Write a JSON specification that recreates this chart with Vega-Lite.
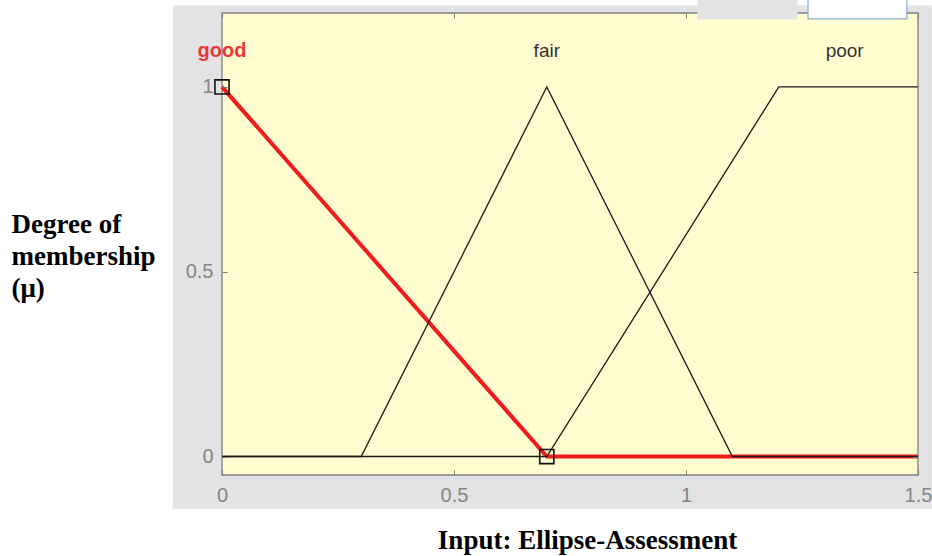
{
  "$schema": "https://vega.github.io/schema/vega-lite/v6.json",
  "width": 696,
  "height": 462,
  "autosize": {"type": "none"},
  "padding": {"left": 222, "top": 13, "right": 14, "bottom": 81},
  "background": "white",
  "config": {
    "view": {"stroke": null},
    "axis": {
      "grid": false,
      "domain": false,
      "ticks": true,
      "tickSize": 5,
      "offset": -5,
      "tickColor": "#7a7a7a",
      "tickWidth": 1,
      "labelFont": "Liberation Sans",
      "labelFontSize": 20,
      "labelColor": "#858585",
      "labelFlush": false,
      "labelOverlap": false
    }
  },
  "datasets": {
    "panel": [{"x": -0.106, "x2": 1.53, "y": -0.141, "y2": 1.22}],
    "plotArea": [{"x": 0, "x2": 1.5, "y": -0.05, "y2": 1.2}],
    "membership": [
      {"set": "good", "order": 1, "x": 0, "mu": 1},
      {"set": "good", "order": 2, "x": 0.7, "mu": 0},
      {"set": "good", "order": 3, "x": 1.5, "mu": 0},
      {"set": "fair", "order": 1, "x": 0, "mu": 0},
      {"set": "fair", "order": 2, "x": 0.3, "mu": 0},
      {"set": "fair", "order": 3, "x": 0.7, "mu": 1},
      {"set": "fair", "order": 4, "x": 1.1, "mu": 0},
      {"set": "fair", "order": 5, "x": 1.5, "mu": 0},
      {"set": "poor", "order": 1, "x": 0, "mu": 0},
      {"set": "poor", "order": 2, "x": 0.7, "mu": 0},
      {"set": "poor", "order": 3, "x": 1.2, "mu": 1},
      {"set": "poor", "order": 4, "x": 1.5, "mu": 1}
    ],
    "handles": [{"x": 0, "mu": 1}, {"x": 0.7, "mu": 0}],
    "names": [
      {"set": "good", "x": 0, "mu": 1.082},
      {"set": "fair", "x": 0.7, "mu": 1.082},
      {"set": "poor", "x": 1.342, "mu": 1.082}
    ],
    "widgets": [
      {"kind": "tab", "x": 1.026, "x2": 1.239, "y": 1.184, "y2": 1.24},
      {"kind": "box", "x": 1.263, "x2": 1.476, "y": 1.184, "y2": 1.24}
    ]
  },
  "layer": [
    {
      "data": {"name": "panel"},
      "mark": {"type": "rect", "fill": "#e3e3e3"},
      "encoding": {
        "x": {
          "field": "x", "type": "quantitative",
          "scale": {"domain": [0, 1.5], "nice": false, "zero": false},
          "axis": {
            "orient": "bottom",
            "zindex": 2,
            "values": [0, 0.5, 1, 1.5],
            "format": "~g",
            "labelPadding": 10,
            "title": "Input: Ellipse-Assessment",
            "titleFont": "Liberation Serif",
            "titleFontSize": 27,
            "titleFontWeight": "bold",
            "titleColor": "#000000",
            "titleAlign": "center",
            "titleBaseline": "alphabetic",
            "titleX": 365,
            "titleY": 78
          }
        },
        "x2": {"field": "x2"},
        "y": {
          "field": "y", "type": "quantitative",
          "scale": {"domain": [-0.05, 1.2], "nice": false, "zero": false},
          "axis": {
            "orient": "left",
            "zindex": 2,
            "values": [0, 0.5, 1],
            "format": "~g",
            "labelPadding": 9,
            "title": ["Degree of", "membership", "(μ)"],
            "titleFont": "Liberation Serif",
            "titleFontSize": 27,
            "titleFontWeight": "bold",
            "titleColor": "#000000",
            "titleAngle": 0,
            "titleAlign": "left",
            "titleBaseline": "alphabetic",
            "titleLineHeight": 32,
            "titleX": -216,
            "titleY": 219
          }
        },
        "y2": {"field": "y2"}
      }
    },
    {
      "data": {"name": "plotArea"},
      "mark": {"type": "rect", "fill": "#fffccf", "stroke": "#808080", "strokeWidth": 1.3},
      "encoding": {
        "x": {
          "field": "x", "type": "quantitative",
          "axis": {"orient": "top", "zindex": 2, "values": [0, 0.5, 1, 1.5], "labels": false, "title": null}
        },
        "x2": {"field": "x2"},
        "y": {
          "field": "y", "type": "quantitative",
          "axis": {"orient": "right", "zindex": 2, "values": [0, 0.5, 1], "labels": false, "title": null}
        },
        "y2": {"field": "y2"}
      }
    },
    {
      "data": {"name": "membership"},
      "transform": [{"filter": "datum.set === 'good'"}],
      "mark": {"type": "line", "color": "#f21b1b", "strokeWidth": 4, "strokeJoin": "round"},
      "encoding": {
        "x": {"field": "x", "type": "quantitative", "axis": null},
        "y": {"field": "mu", "type": "quantitative", "axis": null},
        "order": {"field": "order"}
      }
    },
    {
      "data": {"name": "membership"},
      "transform": [{"filter": "datum.set !== 'good'"}],
      "mark": {"type": "line", "color": "#1a1a1a", "strokeWidth": 1.3},
      "encoding": {
        "x": {"field": "x", "type": "quantitative", "axis": null},
        "y": {"field": "mu", "type": "quantitative", "axis": null},
        "detail": {"field": "set"},
        "order": {"field": "order"}
      }
    },
    {
      "data": {"name": "handles"},
      "mark": {"type": "point", "shape": "square", "size": 200, "filled": false, "stroke": "#111111", "strokeWidth": 1.6, "opacity": 1},
      "encoding": {
        "x": {"field": "x", "type": "quantitative", "axis": null},
        "y": {"field": "mu", "type": "quantitative", "axis": null}
      }
    },
    {
      "data": {"name": "names"},
      "transform": [{"filter": "datum.set === 'good'"}],
      "mark": {"type": "text", "font": "Liberation Sans", "fontSize": 20, "fontWeight": "bold", "color": "#e8383a", "align": "center", "baseline": "alphabetic"},
      "encoding": {
        "x": {"field": "x", "type": "quantitative", "axis": null},
        "y": {"field": "mu", "type": "quantitative", "axis": null},
        "text": {"field": "set"}
      }
    },
    {
      "data": {"name": "names"},
      "transform": [{"filter": "datum.set !== 'good'"}],
      "mark": {"type": "text", "font": "Liberation Sans", "fontSize": 19, "color": "#333333", "align": "center", "baseline": "alphabetic"},
      "encoding": {
        "x": {"field": "x", "type": "quantitative", "axis": null},
        "y": {"field": "mu", "type": "quantitative", "axis": null},
        "text": {"field": "set"}
      }
    },
    {
      "data": {"name": "widgets"},
      "mark": {"type": "rect", "strokeWidth": 1.2},
      "encoding": {
        "x": {"field": "x", "type": "quantitative", "axis": null},
        "x2": {"field": "x2"},
        "y": {"field": "y", "type": "quantitative", "axis": null},
        "y2": {"field": "y2"},
        "fill": {
          "field": "kind", "type": "nominal", "legend": null,
          "scale": {"domain": ["tab", "box"], "range": ["#e3e3e3", "#ffffff"]}
        },
        "stroke": {
          "field": "kind", "type": "nominal", "legend": null,
          "scale": {"domain": ["tab", "box"], "range": ["#e3e3e3", "#8eaed4"]}
        }
      }
    }
  ]
}
